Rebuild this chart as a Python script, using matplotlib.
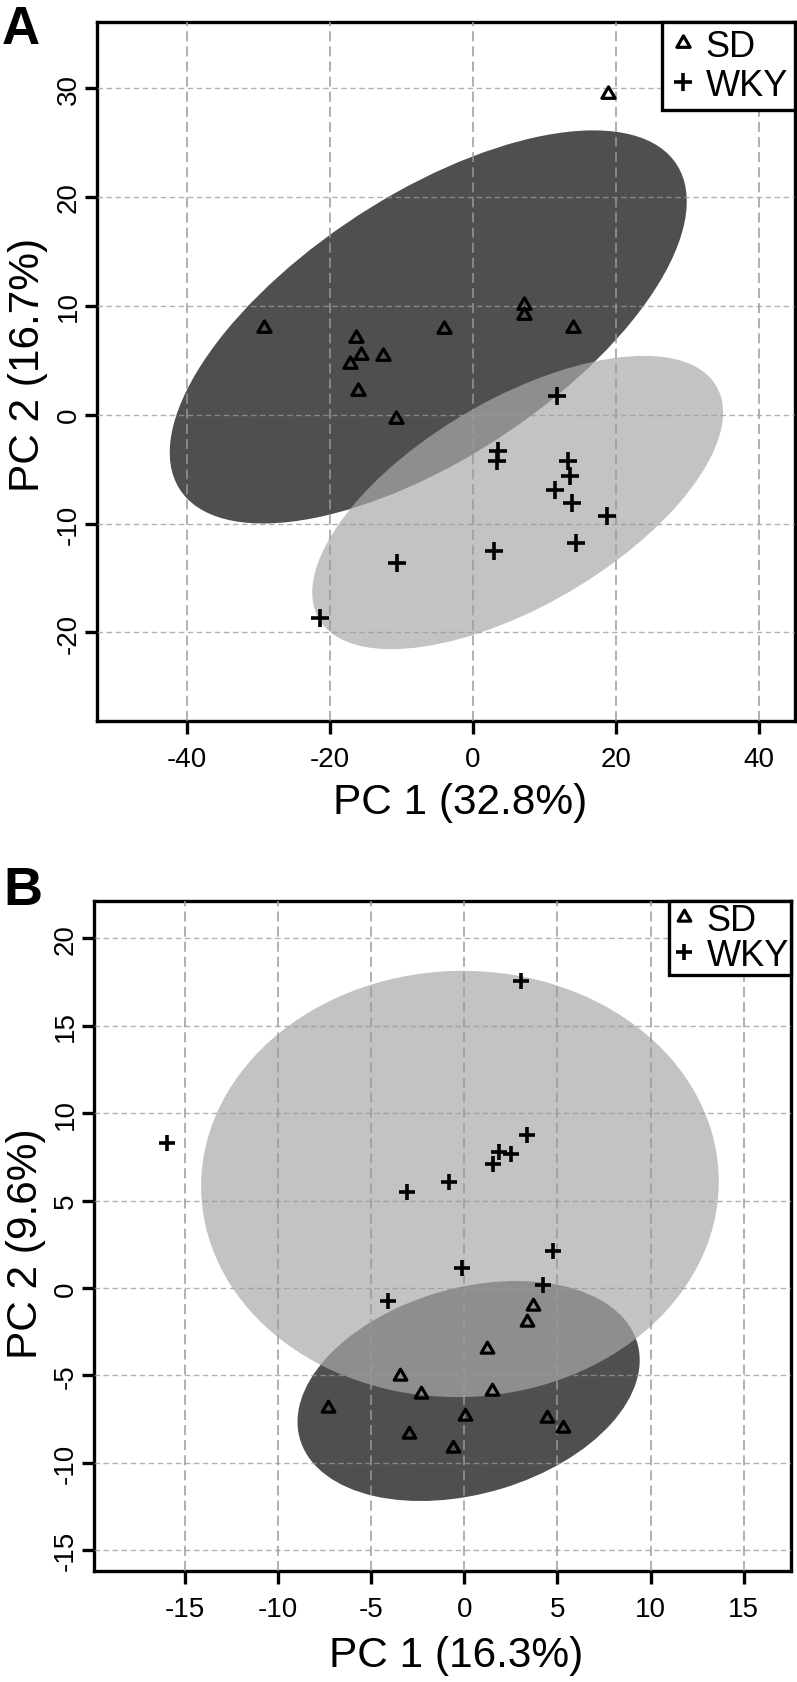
"""
PCA de dos grupos (SD y WKY) con elipses de confianza del 95 %.
"""

import numpy as np
import matplotlib.pyplot as plt
from matplotlib.patches import Ellipse
from matplotlib.path import Path
from matplotlib.lines import Line2D

plt.rcParams['font.family'] = ['Liberation Sans', 'DejaVu Sans']
plt.rcParams['axes.unicode_minus'] = False

# Panel A
a_sd_x = [-29.2, -16.4, -15.7, -12.6, -17.1, -16.0, -10.8, 18.9, -4.1, 7.07, 7.07, 14.0]
a_sd_y = [8.0, 7.07, 5.45, 5.39, 4.62, 2.17, -0.43, 29.5, 7.84, 10.05, 9.13, 8.0]
a_wky_x = [11.8, -21.3, -10.6, 3.57, 3.35, 13.26, 13.58, 11.49, 13.8, 18.8, 14.4, 2.88]
a_wky_y = [1.71, -18.7, -13.6, -3.35, -4.26, -4.26, -5.64, -6.87, -8.15, -9.32, -11.77, -12.53]
a_xticks = [-40, -20, 0, 20, 40]
a_yticks = [-20, -10, 0, 10, 20, 30]
a_xlabel = "PC 1 (32.8%)"
a_ylabel = "PC 2 (16.7%)"

# Panel B
b_sd_x = [3.67, 3.35, 1.23, 1.47, -2.34, 0.04, 4.42, 5.28, -2.95, -0.59, -3.44, -7.30]
b_sd_y = [-1.01, -1.96, -3.49, -5.87, -6.06, -7.34, -7.46, -8.03, -8.35, -9.17, -5.06, -6.88]
b_wky_x = [-15.97, 3.03, 3.35, 1.88, 2.51, 1.56, -0.80, -3.06, 4.77, -0.14, 4.21, -4.08]
b_wky_y = [8.30, 17.58, 8.75, 7.80, 7.67, 7.09, 6.08, 5.47, 2.13, 1.13, 0.17, -0.76]
b_xticks = [-15, -10, -5, 0, 5, 10, 15]
b_yticks = [-15, -10, -5, 0, 5, 10, 15, 20]
b_xlabel = "PC 1 (16.3%)"
b_ylabel = "PC 2 (9.6%)"

grupos = ["SD", "WKY"]

# triangulo equilatero centrado en el centroide (como pch=2 de R)
triangulo = Path([(-1, -0.577), (1, -0.577), (0, 1.155), (-1, -0.577)], closed=True)


def elipse(ax, x, y, **kw):
    """
    Elipse normal del 95 % a partir de la media y la covarianza.
    """
    pts = np.column_stack([x, y])
    centro = pts.mean(axis=0)
    cov = np.cov(pts, rowvar=False)
    vals, vecs = np.linalg.eigh(cov)
    k = np.sqrt(-2 * np.log(0.05))
    ang = np.degrees(np.arctan2(vecs[1, 1], vecs[0, 1]))
    e = Ellipse(centro, 2 * k * np.sqrt(vals[1]), 2 * k * np.sqrt(vals[0]),
                angle=ang, zorder=1, **kw)
    ax.add_patch(e)


def panel(ax, sd_x, sd_y, wky_x, wky_y, xticks, yticks, xlabel, ylabel,
          xlim, ylim, ms_tri, ms_plus, xlab_pos, ylab_pos, leg_kw):
    elipse(ax, sd_x, sd_y, facecolor="#4f4f4f", edgecolor="none")
    elipse(ax, wky_x, wky_y, facecolor="#aaaaaa", edgecolor="none", alpha=0.7)

    estilo_tri = dict(linestyle="none", marker=triangulo, markersize=ms_tri,
                      markerfacecolor="none", markeredgecolor="black",
                      markeredgewidth=2.3)
    estilo_plus = dict(linestyle="none", marker="+", markersize=ms_plus,
                       markeredgecolor="black", markeredgewidth=2.6)

    ax.plot(sd_x, sd_y, zorder=3, **estilo_tri)
    ax.plot(wky_x, wky_y, zorder=3, **estilo_plus)

    ax.set_xlim(*xlim)
    ax.set_ylim(*ylim)
    ax.set_xticks(xticks)
    ax.set_yticks(yticks)

    ax.set_axisbelow(False)
    ax.xaxis.grid(True, color="#999999", alpha=0.75, lw=1.45, linestyle=(0, (5, 2.5)))
    ax.yaxis.grid(True, color="#999999", alpha=0.75, lw=1.0, linestyle=(0, (4, 2.5)))

    for s in ax.spines.values():
        s.set_linewidth(2.4)
    ax.tick_params(direction="out", length=9, width=2.4, labelsize=20)
    ax.tick_params(axis="x", pad=9)
    ax.tick_params(axis="y", pad=2, labelrotation=90)
    for lab in ax.get_yticklabels():
        lab.set_va("center")

    ax.set_xlabel(xlabel, fontsize=30.5)
    ax.set_ylabel(ylabel, fontsize=30.5)
    ax.xaxis.set_label_coords(*xlab_pos)
    ax.yaxis.set_label_coords(*ylab_pos)

    handles = [Line2D([], [], **estilo_tri), Line2D([], [], **estilo_plus)]
    leg = ax.legend(handles, grupos, loc="upper right", bbox_to_anchor=(1, 1),
                    borderaxespad=0, fancybox=False, framealpha=1,
                    edgecolor="black", fontsize=26, handlelength=0.75,
                    handletextpad=0.25, **leg_kw)
    leg.get_frame().set_linewidth(2.4)
    leg.set_zorder(5)


fig = plt.figure(figsize=(7.97, 16.83), dpi=100)
ax_a = fig.add_axes([0.1213, 0.5712, 0.8762, 0.4153])
ax_b = fig.add_axes([0.1183, 0.0658, 0.8738, 0.3981])

panel(ax_a, a_sd_x, a_sd_y, a_wky_x, a_wky_y, a_xticks, a_yticks,
      a_xlabel, a_ylabel, (-52.56, 45.0), (-28.1, 36.1), 11, 13.5,
      (0.521, -0.088), (-0.069, 0.51),
      dict(labelspacing=0.1, borderpad=0.2))
panel(ax_b, b_sd_x, b_sd_y, b_wky_x, b_wky_y, b_xticks, b_yticks,
      b_xlabel, b_ylabel, (-19.85, 17.52), (-16.2, 22.12), 10.5, 12,
      (0.519, -0.095), (-0.069, 0.49),
      dict(labelspacing=0.0, borderpad=0.05))

fig.text(0.002, 1 - 5 / 1683, "A", fontsize=38, fontweight="bold", va="top", ha="left")
fig.text(0.004, 1 - 866 / 1683, "B", fontsize=39, fontweight="bold", va="top", ha="left")

fig.savefig("out.png", dpi=100)
